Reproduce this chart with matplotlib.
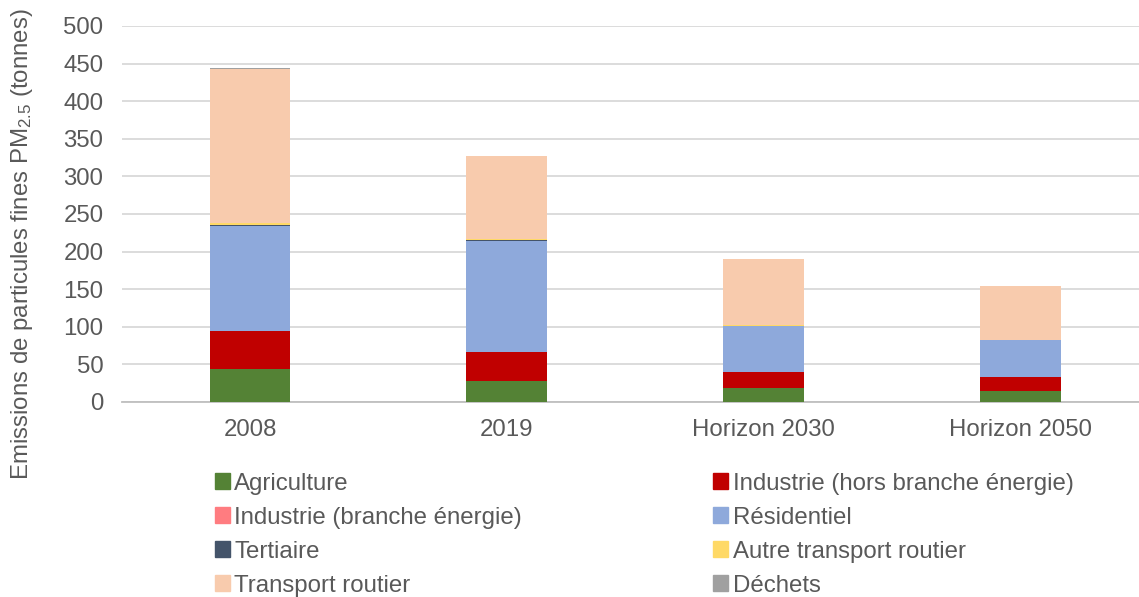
import numpy as np
import matplotlib.pyplot as plt
from matplotlib.patches import Patch

plt.rcParams['font.family'] = ['Liberation Sans', 'DejaVu Sans']
plt.rcParams['mathtext.default'] = 'regular'

# data (tonnes de PM2.5)
years = ["2008", "2019", "Horizon 2030", "Horizon 2050"]
agriculture = [44, 28, 19, 15]
industrie_hors = [51, 39, 21, 18]
industrie_energie = [0, 0, 0, 0]
residentiel = [139, 147, 61, 49]
tertiaire = [1.5, 1, 0.3, 0.2]
autre_transport = [2.5, 2, 0.5, 0.4]
transport_routier = [205, 110, 88, 71]
dechets = [0.5, 0.5, 0.5, 0.5]

series = [
    ("Agriculture", agriculture, "#548235"),
    ("Industrie (hors branche énergie)", industrie_hors, "#C00000"),
    ("Industrie (branche énergie)", industrie_energie, "#FF7C80"),
    ("Résidentiel", residentiel, "#8EA9DB"),
    ("Tertiaire", tertiaire, "#44546A"),
    ("Autre transport routier", autre_transport, "#FFD966"),
    ("Transport routier", transport_routier, "#F8CBAD"),
    ("Déchets", dechets, "#A0A0A0"),
]

fs = 17.3
fig = plt.figure(figsize=(11.39, 5.97), dpi=100)
ax = fig.add_axes([121.5 / 1139, 1 - 402 / 597, (1139 - 121.5) / 1139, 376 / 597])

x = np.arange(len(years))
bottom = np.zeros(len(years))
for name, vals, col in series:
    vals = np.array(vals, dtype=float)
    ax.bar(x, vals, 0.315, bottom=bottom, color=col, zorder=3)
    bottom += vals

ax.set_ylim(0, 500)
ax.set_yticks(range(0, 501, 50))
ax.set_xlim(-0.5, 3.46)
ax.set_xticks(x)
ax.set_xticklabels(years)
ax.yaxis.grid(True, color="#D9D9D9", linewidth=1.3, zorder=0)
ax.tick_params(axis="both", length=0, labelsize=fs, labelcolor="#595959")
ax.tick_params(axis="x", pad=12)
ax.tick_params(axis="y", pad=13)
for s in ["top", "right", "left"]:
    ax.spines[s].set_visible(False)
ax.spines["bottom"].set_color("#BFBFBF")
ax.spines["bottom"].set_linewidth(1.3)

fig.text(22 / 1139, 1 - 244 / 597, "Emissions de particules fines PM$_{2.5}$ (tonnes)",
         rotation=90, ha="center", va="center", fontsize=fs, color="#595959")

# legend, laid out row-wise like the original
order = [0, 2, 4, 6, 1, 3, 5, 7]
handles = [Patch(color=series[i][2]) for i in order]
labels = [series[i][0] for i in order]
fig.legend(handles, labels, ncol=2, loc="upper left", bbox_to_anchor=(205 / 1139, 1 - 463 / 597),
           frameon=False, fontsize=fs, labelcolor="#595959", handlelength=0.62, handleheight=0.62,
           handletextpad=0.2, labelspacing=0.5, columnspacing=7.95, borderaxespad=0)

fig.savefig("out.png", dpi=100)
